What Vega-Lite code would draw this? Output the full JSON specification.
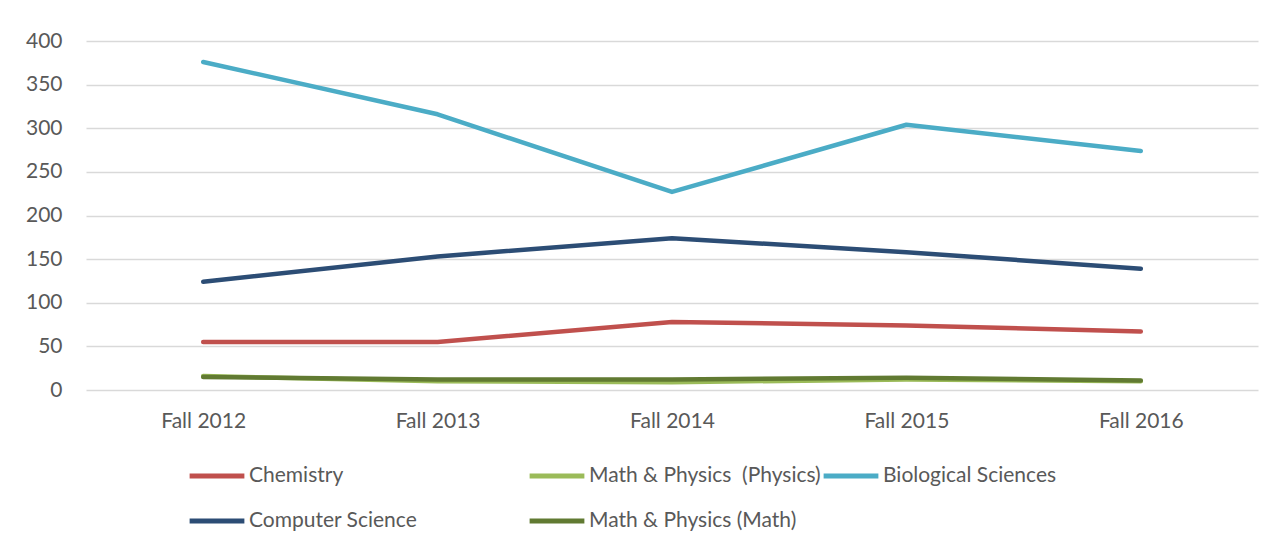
{
  "$schema": "https://vega.github.io/schema/vega-lite/v6.json",
  "width": 1172,
  "height": 349,
  "autosize": "none",
  "padding": {"left": 86, "top": 41, "right": 14, "bottom": 158},
  "background": "white",
  "config": {
    "view": {"stroke": null},
    "font": "Lato",
    "axis": {"labelFont": "Lato", "labelColor": "#595959", "labelFontSize": 21, "domain": false, "ticks": false}
  },
  "data": {
    "values": [
      {"term": "Fall 2012", "dept": "Chemistry", "count": 55},
      {"term": "Fall 2013", "dept": "Chemistry", "count": 55},
      {"term": "Fall 2014", "dept": "Chemistry", "count": 78},
      {"term": "Fall 2015", "dept": "Chemistry", "count": 74},
      {"term": "Fall 2016", "dept": "Chemistry", "count": 67},
      {"term": "Fall 2012", "dept": "Math & Physics  (Physics)", "count": 16},
      {"term": "Fall 2013", "dept": "Math & Physics  (Physics)", "count": 10},
      {"term": "Fall 2014", "dept": "Math & Physics  (Physics)", "count": 9},
      {"term": "Fall 2015", "dept": "Math & Physics  (Physics)", "count": 12},
      {"term": "Fall 2016", "dept": "Math & Physics  (Physics)", "count": 10},
      {"term": "Fall 2012", "dept": "Biological Sciences", "count": 376},
      {"term": "Fall 2013", "dept": "Biological Sciences", "count": 316},
      {"term": "Fall 2014", "dept": "Biological Sciences", "count": 227},
      {"term": "Fall 2015", "dept": "Biological Sciences", "count": 304},
      {"term": "Fall 2016", "dept": "Biological Sciences", "count": 274},
      {"term": "Fall 2012", "dept": "Computer Science", "count": 124},
      {"term": "Fall 2013", "dept": "Computer Science", "count": 153},
      {"term": "Fall 2014", "dept": "Computer Science", "count": 174},
      {"term": "Fall 2015", "dept": "Computer Science", "count": 158},
      {"term": "Fall 2016", "dept": "Computer Science", "count": 139},
      {"term": "Fall 2012", "dept": "Math & Physics (Math)", "count": 15},
      {"term": "Fall 2013", "dept": "Math & Physics (Math)", "count": 12},
      {"term": "Fall 2014", "dept": "Math & Physics (Math)", "count": 12},
      {"term": "Fall 2015", "dept": "Math & Physics (Math)", "count": 14},
      {"term": "Fall 2016", "dept": "Math & Physics (Math)", "count": 11}
    ]
  },
  "mark": {"type": "line", "strokeWidth": 4.5, "strokeCap": "round", "strokeJoin": "round"},
  "encoding": {
    "x": {
      "field": "term", "type": "ordinal", "title": null,
      "scale": {"type": "point", "padding": 0.5},
      "axis": {"labelAngle": 0, "labelPadding": 20, "grid": false}
    },
    "y": {
      "field": "count", "type": "quantitative", "title": null,
      "scale": {"domain": [0, 400], "nice": false},
      "axis": {"values": [0, 50, 100, 150, 200, 250, 300, 350, 400], "labelPadding": 24, "grid": true, "gridColor": "#D9D9D9", "gridWidth": 1.3}
    },
    "color": {
      "field": "dept", "type": "nominal", "title": null,
      "scale": {
        "domain": ["Chemistry", "Math & Physics  (Physics)", "Biological Sciences", "Computer Science", "Math & Physics (Math)"],
        "range": ["#C0504D", "#9BBB59", "#4BACC6", "#2C4D75", "#617A32"]
      },
      "legend": {
        "orient": "none", "legendX": 101, "legendY": 405,
        "direction": "horizontal", "columns": 3,
        "symbolType": "stroke", "symbolSize": 3000, "symbolStrokeWidth": 5,
        "labelFont": "Lato", "labelFontSize": 21, "labelColor": "#595959",
        "labelOffset": 2, "columnPadding": -38, "rowPadding": 5,
        "labelLimit": 500,
        "labelExpr": "datum.label == 'Computer Science' ? 'Computer Science\u2003\u2003\u2003\u2003\u2003\u2003\u2007\u2009\u200b' : replace(datum.label, '  ', ' \u00a0')"
      }
    }
  }
}
